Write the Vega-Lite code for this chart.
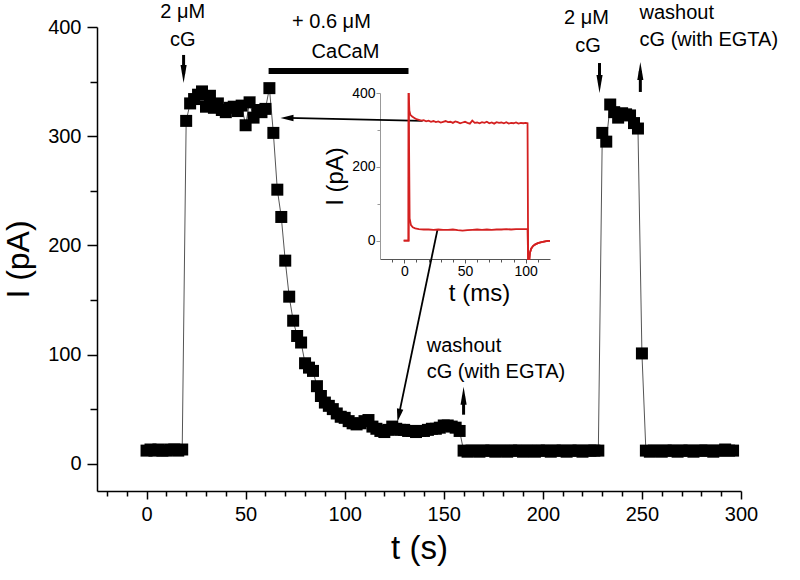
{
  "$schema": "https://vega.github.io/schema/vega-lite/v6.json",
  "width": 644,
  "height": 464,
  "autosize": {"type": "none"},
  "padding": {"left": 97, "top": 27, "right": 59, "bottom": 89},
  "background": "white",
  "config": {
    "view": {"stroke": null},
    "font": "Liberation Sans",
    "axis": {"grid": false, "domainColor": "black", "tickColor": "black", "labelColor": "black", "titleColor": "black", "titleFontWeight": "normal", "labelFont": "Liberation Sans", "titleFont": "Liberation Sans", "labelFlush": false}
  },
  "datasets": {
    "main": [
      {"t":0,"I":12},{"t":2,"I":13},{"t":4,"I":12},{"t":6,"I":13},{"t":8,"I":12},{"t":10,"I":12},{"t":12,"I":13},{"t":14,"I":13},{"t":16,"I":12},{"t":18,"I":13},
      {"t":20,"I":314},{"t":22,"I":330},{"t":24,"I":334},{"t":26,"I":338},{"t":28,"I":341},{"t":30,"I":327},{"t":32,"I":337},{"t":34,"I":326},{"t":36,"I":330},{"t":38,"I":324},{"t":40,"I":322},{"t":42,"I":326},{"t":44,"I":327},{"t":46,"I":323},{"t":48,"I":328},{"t":50,"I":310},{"t":52,"I":331},{"t":54,"I":317},{"t":56,"I":324},{"t":58,"I":322},{"t":60,"I":325},{"t":62,"I":344},{"t":64,"I":303},
      {"t":66,"I":251},{"t":68,"I":226},{"t":70,"I":186},{"t":72,"I":153},{"t":74,"I":131},{"t":76,"I":117},{"t":78,"I":111},{"t":80,"I":92},{"t":82,"I":88},{"t":84,"I":85},{"t":86,"I":71},{"t":88,"I":62},{"t":90,"I":56},{"t":92,"I":53},{"t":94,"I":50},{"t":96,"I":46},{"t":98,"I":43},{"t":100,"I":42},{"t":102,"I":39},{"t":104,"I":37},{"t":106,"I":36},{"t":108,"I":37},{"t":110,"I":39},{"t":112,"I":40},{"t":114,"I":34},{"t":116,"I":32},{"t":118,"I":30},{"t":120,"I":29},{"t":122,"I":31},{"t":124,"I":34},{"t":126,"I":32},{"t":128,"I":31},{"t":130,"I":31},{"t":132,"I":30},{"t":134,"I":30},{"t":136,"I":29},{"t":138,"I":30},{"t":140,"I":30},{"t":142,"I":31},{"t":144,"I":32},{"t":146,"I":32},{"t":148,"I":33},{"t":150,"I":35},{"t":152,"I":35},{"t":154,"I":34},{"t":156,"I":33},{"t":158,"I":30},
      {"t":160,"I":12},{"t":162,"I":11},{"t":164,"I":12},{"t":166,"I":12},{"t":168,"I":11},{"t":170,"I":12},{"t":172,"I":12},{"t":174,"I":12},{"t":176,"I":11},{"t":178,"I":12},{"t":180,"I":12},{"t":182,"I":11},{"t":184,"I":12},{"t":186,"I":12},{"t":188,"I":12},{"t":190,"I":11},{"t":192,"I":12},{"t":194,"I":12},{"t":196,"I":11},{"t":198,"I":12},{"t":200,"I":12},{"t":202,"I":12},{"t":204,"I":11},{"t":206,"I":12},{"t":208,"I":12},{"t":210,"I":12},{"t":212,"I":11},{"t":214,"I":12},{"t":216,"I":12},{"t":218,"I":12},{"t":220,"I":11},{"t":222,"I":12},{"t":224,"I":12},{"t":226,"I":12},{"t":228,"I":12},
      {"t":230,"I":303},{"t":232,"I":295},{"t":234,"I":329},{"t":236,"I":322},{"t":238,"I":317},{"t":240,"I":321},{"t":242,"I":320},{"t":244,"I":319},{"t":246,"I":312},{"t":248,"I":307},{"t":250,"I":101},
      {"t":252,"I":12},{"t":254,"I":11},{"t":256,"I":12},{"t":258,"I":12},{"t":260,"I":11},{"t":262,"I":12},{"t":264,"I":12},{"t":266,"I":12},{"t":268,"I":11},{"t":270,"I":12},{"t":272,"I":12},{"t":274,"I":12},{"t":276,"I":11},{"t":278,"I":12},{"t":280,"I":12},{"t":282,"I":12},{"t":284,"I":12},{"t":286,"I":11},{"t":288,"I":12},{"t":290,"I":12},{"t":292,"I":13},{"t":294,"I":12},{"t":296,"I":12}
    ],
    "bar": [{"t":61.6,"t2":132.2,"I":359.7}],
    "varrows": [
      {"t":18.7,"I":374.4,"Ih":357,"dir":"down"},
      {"t":228.6,"I":367,"Ih":347.8,"dir":"down"},
      {"t":249.2,"I":340.5,"Ih":359.7,"dir":"up"},
      {"t":160,"I":44.9,"Ih":62.2,"dir":"up"}
    ],
    "larrows": [
      {"t":139.3,"I":314,"t2":70.9,"I2":316.7,"dir":"left"},
      {"t":146.8,"I":214.2,"t2":127.3,"I2":44.3,"dir":"diag"}
    ],
    "labelsC": [
      {"t":18.3,"I":408,"label":"2 μM"},
      {"t":18.3,"I":383,"label":"cG"},
      {"t":93.3,"I":399.5,"label":"+ 0.6 μM"},
      {"t":100.4,"I":372,"label":"CaCaM"},
      {"t":222,"I":403,"label":"2 μM"},
      {"t":222.8,"I":377.5,"label":"cG"}
    ],
    "labelsL": [
      {"t":248.8,"I":407.5,"label":"washout"},
      {"t":248.8,"I":383,"label":"cG (with EGTA)"},
      {"t":141.4,"I":102,"label":"washout"},
      {"t":141.4,"I":78.2,"label":"cG (with EGTA)"}
    ],
    "inset": [
      {"trace":"a","ms":-0.5,"pA":0},{"trace":"a","ms":3.5,"pA":0},{"trace":"a","ms":3.6,"pA":400},{"trace":"a","ms":4.2,"pA":352},{"trace":"a","ms":5,"pA":341},{"trace":"a","ms":6.5,"pA":336},{"trace":"a","ms":8,"pA":333},{"trace":"a","ms":10,"pA":329},
      {"trace":"a","ms":12,"pA":327},{"trace":"a","ms":14,"pA":325},{"trace":"a","ms":16,"pA":326},{"trace":"a","ms":18,"pA":323},{"trace":"a","ms":20,"pA":325},{"trace":"a","ms":22,"pA":322},{"trace":"a","ms":24,"pA":324},{"trace":"a","ms":26,"pA":321},{"trace":"a","ms":28,"pA":323},{"trace":"a","ms":30,"pA":320},{"trace":"a","ms":32,"pA":322},{"trace":"a","ms":34,"pA":324},{"trace":"a","ms":36,"pA":321},{"trace":"a","ms":38,"pA":322},{"trace":"a","ms":40,"pA":319},{"trace":"a","ms":42,"pA":323},{"trace":"a","ms":44,"pA":321},{"trace":"a","ms":46,"pA":318},{"trace":"a","ms":48,"pA":320},{"trace":"a","ms":50,"pA":322},{"trace":"a","ms":52,"pA":319},{"trace":"a","ms":54,"pA":317},{"trace":"a","ms":56,"pA":325},{"trace":"a","ms":58,"pA":319},{"trace":"a","ms":60,"pA":320},{"trace":"a","ms":62,"pA":318},{"trace":"a","ms":64,"pA":321},{"trace":"a","ms":66,"pA":319},{"trace":"a","ms":68,"pA":322},{"trace":"a","ms":70,"pA":318},{"trace":"a","ms":72,"pA":320},{"trace":"a","ms":74,"pA":317},{"trace":"a","ms":76,"pA":321},{"trace":"a","ms":78,"pA":319},{"trace":"a","ms":80,"pA":320},{"trace":"a","ms":82,"pA":318},{"trace":"a","ms":84,"pA":321},{"trace":"a","ms":86,"pA":317},{"trace":"a","ms":88,"pA":319},{"trace":"a","ms":90,"pA":318},{"trace":"a","ms":92,"pA":320},{"trace":"a","ms":94,"pA":317},{"trace":"a","ms":96,"pA":319},{"trace":"a","ms":98,"pA":318},{"trace":"a","ms":100,"pA":319},
      {"trace":"a","ms":101.5,"pA":318},{"trace":"a","ms":102,"pA":-50},{"trace":"a","ms":103,"pA":-50},{"trace":"a","ms":103.5,"pA":-33},{"trace":"a","ms":104.5,"pA":-22},{"trace":"a","ms":106,"pA":-15},{"trace":"a","ms":107.6,"pA":-11},{"trace":"a","ms":110,"pA":-7},{"trace":"a","ms":113,"pA":-4},{"trace":"a","ms":116,"pA":-2},{"trace":"a","ms":118.4,"pA":-1},{"trace":"a","ms":120,"pA":-1},
      {"trace":"b","ms":-0.5,"pA":0},{"trace":"b","ms":3.5,"pA":0},{"trace":"b","ms":3.6,"pA":400},{"trace":"b","ms":4.4,"pA":60},{"trace":"b","ms":5.5,"pA":42},{"trace":"b","ms":7,"pA":36},{"trace":"b","ms":9,"pA":33},
      {"trace":"b","ms":12,"pA":31},{"trace":"b","ms":16,"pA":30},{"trace":"b","ms":20,"pA":30},{"trace":"b","ms":24,"pA":29},{"trace":"b","ms":28,"pA":30},{"trace":"b","ms":32,"pA":29},{"trace":"b","ms":36,"pA":29},{"trace":"b","ms":40,"pA":30},{"trace":"b","ms":44,"pA":28},{"trace":"b","ms":48,"pA":27},{"trace":"b","ms":52,"pA":28},{"trace":"b","ms":56,"pA":29},{"trace":"b","ms":60,"pA":30},{"trace":"b","ms":64,"pA":29},{"trace":"b","ms":68,"pA":30},{"trace":"b","ms":72,"pA":29},{"trace":"b","ms":76,"pA":30},{"trace":"b","ms":80,"pA":30},{"trace":"b","ms":84,"pA":31},{"trace":"b","ms":88,"pA":30},{"trace":"b","ms":92,"pA":31},{"trace":"b","ms":96,"pA":31},{"trace":"b","ms":100,"pA":31},
      {"trace":"b","ms":101.5,"pA":31},{"trace":"b","ms":102,"pA":-50},{"trace":"b","ms":103,"pA":-50},{"trace":"b","ms":103.5,"pA":-33},{"trace":"b","ms":104.5,"pA":-22},{"trace":"b","ms":106,"pA":-15},{"trace":"b","ms":107.6,"pA":-11},{"trace":"b","ms":110,"pA":-7},{"trace":"b","ms":113,"pA":-4},{"trace":"b","ms":116,"pA":-2},{"trace":"b","ms":118.4,"pA":-1},{"trace":"b","ms":120,"pA":-1}
    ]
  },
  "layer": [
    {
      "data": {"name": "main"},
      "mark": {"type": "point", "opacity": 0},
      "encoding": {
        "x": {"field": "t", "type": "quantitative",
          "scale": {"domain": [-25, 300], "nice": false, "zero": false},
          "axis": {"orient": "bottom", "title": null, "labels": false, "domain": false,
            "values": [-20,-10,10,20,30,40,60,70,80,90,110,120,130,140,160,170,180,190,210,220,230,240,260,270,280,290],
            "tickSize": 5, "tickWidth": 1.5}},
        "y": {"field": "I", "type": "quantitative",
          "scale": {"domain": [-25, 400], "nice": false, "zero": false},
          "axis": {"orient": "left", "title": null, "labels": false, "domain": false,
            "values": [50,150,250,350], "tickSize": 7, "tickWidth": 1.5}}
      }
    },
    {
      "layer": [
        {
          "data": {"name": "main"},
          "mark": {"type": "line", "color": "#555555", "strokeWidth": 1},
          "encoding": {
            "x": {"field": "t", "type": "quantitative",
              "scale": {"domain": [-25, 300], "nice": false, "zero": false},
              "axis": {"orient": "bottom", "title": "t (s)", "values": [0,50,100,150,200,250,300],
                "tickSize": 8, "labelFontSize": 20, "titleFontSize": 33, "labelPadding": 5, "titlePadding": 8,
                "domainWidth": 1.5, "tickWidth": 1.5}},
            "y": {"field": "I", "type": "quantitative",
              "scale": {"domain": [-25, 400], "nice": false, "zero": false},
              "axis": {"orient": "left", "title": "I (pA)", "values": [0,100,200,300,400],
                "tickSize": 10, "labelFontSize": 20, "titleFontSize": 32, "labelPadding": 6, "titlePadding": 12,
                "domainWidth": 1.5, "tickWidth": 1.5}}
          }
        },
        {
          "data": {"name": "main"},
          "mark": {"type": "point", "shape": "square", "filled": true, "color": "black", "size": 144, "opacity": 1},
          "encoding": {
            "x": {"field": "t", "type": "quantitative"},
            "y": {"field": "I", "type": "quantitative"}
          }
        },
        {
          "data": {"name": "bar"},
          "mark": {"type": "rule", "strokeWidth": 6, "color": "black"},
          "encoding": {
            "x": {"field": "t", "type": "quantitative"},
            "x2": {"field": "t2"},
            "y": {"field": "I", "type": "quantitative"}
          }
        },
        {
          "data": {"name": "varrows"},
          "mark": {"type": "rule", "strokeWidth": 3, "color": "black"},
          "encoding": {
            "x": {"field": "t", "type": "quantitative"},
            "y": {"field": "I", "type": "quantitative"},
            "y2": {"field": "Ih"}
          }
        },
        {
          "data": {"name": "varrows"},
          "transform": [{"filter": "datum.dir === 'down'"}],
          "mark": {"type": "point", "shape": "M0,1L-0.34,-1L0.34,-1Z", "filled": true, "color": "black", "size": 324, "opacity": 1},
          "encoding": {
            "x": {"field": "t", "type": "quantitative"},
            "y": {"field": "Ih", "type": "quantitative"}
          }
        },
        {
          "data": {"name": "varrows"},
          "transform": [{"filter": "datum.dir === 'up'"}],
          "mark": {"type": "point", "shape": "M0,-1L-0.34,1L0.34,1Z", "filled": true, "color": "black", "size": 324, "opacity": 1},
          "encoding": {
            "x": {"field": "t", "type": "quantitative"},
            "y": {"field": "Ih", "type": "quantitative"}
          }
        },
        {
          "data": {"name": "larrows"},
          "mark": {"type": "rule", "strokeWidth": 1.8, "color": "black"},
          "encoding": {
            "x": {"field": "t", "type": "quantitative"},
            "y": {"field": "I", "type": "quantitative"},
            "x2": {"field": "t2"},
            "y2": {"field": "I2"}
          }
        },
        {
          "data": {"name": "larrows"},
          "transform": [{"filter": "datum.dir === 'left'"}],
          "mark": {"type": "point", "shape": "M-1,0L1,-0.5L1,0.5Z", "filled": true, "color": "black", "size": 169, "opacity": 1},
          "encoding": {
            "x": {"field": "t2", "type": "quantitative"},
            "y": {"field": "I2", "type": "quantitative"}
          }
        },
        {
          "data": {"name": "larrows"},
          "transform": [{"filter": "datum.dir === 'diag'"}],
          "mark": {"type": "point", "shape": "M0,1L-0.5,-1L0.5,-1Z", "angle": 12, "filled": true, "color": "black", "size": 169, "opacity": 1},
          "encoding": {
            "x": {"field": "t2", "type": "quantitative"},
            "y": {"field": "I2", "type": "quantitative"}
          }
        },
        {
          "data": {"name": "labelsC"},
          "mark": {"type": "text", "align": "center", "baseline": "alphabetic", "fontSize": 20, "color": "black"},
          "encoding": {
            "x": {"field": "t", "type": "quantitative"},
            "y": {"field": "I", "type": "quantitative"},
            "text": {"field": "label"}
          }
        },
        {
          "data": {"name": "labelsL"},
          "mark": {"type": "text", "align": "left", "baseline": "alphabetic", "fontSize": 20, "color": "black"},
          "encoding": {
            "x": {"field": "t", "type": "quantitative"},
            "y": {"field": "I", "type": "quantitative"},
            "text": {"field": "label"}
          }
        }
      ]
    },
    {
      "data": {"name": "inset"},
      "mark": {"type": "line", "color": "#d42020", "strokeWidth": 1.8},
      "encoding": {
        "x": {"field": "ms", "type": "quantitative",
          "scale": {"domain": [-20, 120], "range": [283, 453], "nice": false, "zero": false},
          "axis": {"orient": "bottom", "offset": -232, "title": "t (ms)",
            "values": [0,50,100],
            "tickSize": 4, "labelFontSize": 14, "titleFontSize": 24, "labelPadding": 1, "titlePadding": 3,
            "titleX": 382, "titleAnchor": "middle", "titleAlign": "center",
            "domainColor": "#555555", "tickColor": "#555555"}},
        "y": {"field": "pA", "type": "quantitative",
          "scale": {"domain": [-50, 400], "range": [232, 66], "nice": false, "zero": false},
          "axis": {"orient": "left", "offset": -283, "title": "I (pA)",
            "values": [0,200,400],
            "tickSize": 4, "labelFontSize": 14, "titleFontSize": 24, "labelPadding": 1, "titlePadding": 4,
            "domainColor": "#999999", "tickColor": "#999999"}},
        "detail": {"field": "trace"}
      }
    },
    {
      "data": {"name": "inset"},
      "mark": {"type": "point", "opacity": 0},
      "encoding": {
        "x": {"field": "ms", "type": "quantitative",
          "scale": {"domain": [-20, 120], "range": [283, 453], "nice": false, "zero": false},
          "axis": {"orient": "bottom", "offset": -232, "title": null, "labels": false, "domain": false,
            "values": [-10,10,20,30,40,60,70,80,90,110], "tickSize": 3, "tickColor": "#555555"}},
        "y": {"field": "pA", "type": "quantitative",
          "scale": {"domain": [-50, 400], "range": [232, 66], "nice": false, "zero": false},
          "axis": {"orient": "left", "offset": -283, "title": null, "labels": false, "domain": false,
            "values": [100,300], "tickSize": 3, "tickColor": "#999999"}}
      }
    }
  ],
  "resolve": {"scale": {"x": "independent", "y": "independent"}, "axis": {"x": "independent", "y": "independent"}}
}
